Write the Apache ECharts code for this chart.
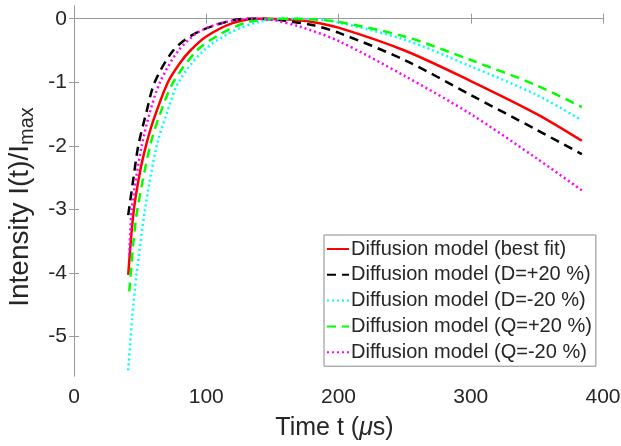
<!DOCTYPE html>
<html><head><meta charset="utf-8">
<script src="https://cdn.jsdelivr.net/npm/echarts@6/dist/echarts.min.js"></script>
<style>html,body{margin:0;padding:0;background:#fff}#c{width:621px;height:446px}</style>
</head><body><div id="c"></div>
<script>
const xTicks = [0, 100, 200, 300, 400];
const yTicks = [-5, -4, -3, -2, -1, 0];
const seriesNames = [
  'Diffusion model (best fit)',
  'Diffusion model (D=+20 %)',
  'Diffusion model (D=-20 %)',
  'Diffusion model (Q=+20 %)',
  'Diffusion model (Q=-20 %)'
];
const tBest = [41, 45, 50, 54.4, 60, 71, 80, 88, 100, 120, 140, 160, 180, 200, 250, 300, 350, 384];
const vBest = [-4.03, -3.05, -2.4, -2.0, -1.6, -1.0, -0.7, -0.5, -0.28, -0.07, 0, -0.01, -0.05, -0.14, -0.5, -0.98, -1.5, -1.92];
const tDplus = [41, 45, 48.6, 55, 61, 75, 90, 110, 130, 150, 180, 200, 250, 300, 350, 384];
const vDplus = [-3.09, -2.5, -2.0, -1.45, -1.0, -0.5, -0.25, -0.08, 0, -0.01, -0.1, -0.22, -0.65, -1.2, -1.75, -2.13];
const tDminus = [41, 44, 47.4, 53.7, 62.5, 70, 79, 98, 120, 140, 160, 180, 200, 250, 300, 350, 384];
const vDminus = [-5.53, -4.7, -4.0, -3.0, -2.0, -1.5, -1.0, -0.5, -0.2, -0.05, 0, -0.01, -0.06, -0.33, -0.75, -1.2, -1.6];
const tQplus = [41.8, 45, 47.9, 57.5, 65, 75, 93, 110, 130, 155, 180, 200, 250, 300, 350, 384];
const vQplus = [-4.29, -3.5, -3.0, -2.0, -1.5, -1.0, -0.5, -0.25, -0.06, 0, -0.01, -0.05, -0.28, -0.65, -1.05, -1.39];
const tQminus = [41.8, 43.6, 47, 51.2, 57, 65, 79, 95, 115, 135, 150, 170, 200, 250, 300, 350, 384];
const vQminus = [-3.72, -3.0, -2.5, -2.0, -1.5, -1.0, -0.5, -0.2, -0.05, 0, -0.02, -0.12, -0.35, -0.9, -1.5, -2.2, -2.7];

const FONT = "'Liberation Sans', Arial, sans-serif";
const TXT = '#262626';
const AX = '#9a9a9a';
const zip = (t, v) => t.map((x, i) => [x, v[i]]);

const styles = [
  {color: '#ff0000', type: 'solid'},
  {color: '#000000', type: [9, 6]},
  {color: '#00ffff', type: [2, 3]},
  {color: '#00ff00', type: [9, 6]},
  {color: '#ff00ff', type: [2, 3]}
];
const datas = [zip(tBest, vBest), zip(tDplus, vDplus), zip(tDminus, vDminus), zip(tQplus, vQplus), zip(tQminus, vQminus)];

const chart = echarts.init(document.getElementById('c'));
const axisCommon = {
  axisLine: {show: true, lineStyle: {color: AX, width: 1}},
  axisTick: {show: true, inside: true, length: 5, lineStyle: {color: AX}},
  splitLine: {show: false}
};
chart.setOption({
  animation: false,
  backgroundColor: '#fff',
  textStyle: {fontFamily: FONT},
  grid: {left: 74, right: 18, top: 6, bottom: 70, containLabel: false, outerBoundsMode: 'none'},
  xAxis: [
    Object.assign({type: 'value', min: 0, max: 400, interval: 100, position: 'bottom',
      axisLabel: {color: TXT, fontSize: 21, fontFamily: FONT, margin: 11},
      name: 'Time t ({mu|μ}s)', nameLocation: 'middle', nameGap: 40,
      nameTextStyle: {color: TXT, fontSize: 25, fontFamily: FONT, padding: [0, 8, 0, 0],
        rich: {mu: {fontSize: 25, fontStyle: 'italic', fontFamily: FONT, color: TXT}}}
    }, axisCommon),
    Object.assign({type: 'value', min: 0, max: 400, interval: 100, position: 'top',
      axisLabel: {show: false}}, axisCommon)
  ],
  yAxis: [
    Object.assign({type: 'value', min: -5.62, max: 0.2, position: 'left',
      axisLabel: {color: TXT, fontSize: 21, fontFamily: FONT, margin: 7, customValues: yTicks},
      axisTick: {show: true, inside: true, length: 5, lineStyle: {color: AX}, customValues: yTicks},
      axisLine: {show: true, lineStyle: {color: AX}}, splitLine: {show: false},
      name: 'Intensity I(t)/I{sub|max}', nameLocation: 'middle', nameRotate: 90, nameGap: 34,
      nameTextStyle: {color: TXT, fontSize: 28, fontFamily: FONT, padding: [0, 32, 0, 0],
        rich: {sub: {fontSize: 20, fontFamily: FONT, color: TXT, padding: [14, 0, 0, 0]}}}
    }),
    {type: 'value', min: -5.62, max: 0.2, position: 'right',
      axisLabel: {show: false},
      axisTick: {show: true, inside: true, length: 5, lineStyle: {color: AX}, customValues: yTicks},
      axisLine: {show: true, lineStyle: {color: AX}}, splitLine: {show: false}}
  ],
  legend: {
    orient: 'vertical', left: 324, top: 235,
    backgroundColor: '#fff', borderColor: '#8a8a8a', borderWidth: 1,
    padding: [4, 4, 4, 2], itemGap: 5.8, itemWidth: 22, itemHeight: 14,
    itemStyle: {opacity: 0},
    textStyle: {fontSize: 20, color: TXT, fontFamily: FONT, padding: [0, 0, 0, -3]},
    data: seriesNames
  },
  series: seriesNames.map((n, i) => ({
    name: n, type: 'line', data: datas[i], showSymbol: false, symbol: 'none',
    smooth: 0.3, clip: true,
    lineStyle: {color: styles[i].color, type: styles[i].type, width: 2.5},
    itemStyle: {color: styles[i].color}
  }))
});
</script>
</body></html>
